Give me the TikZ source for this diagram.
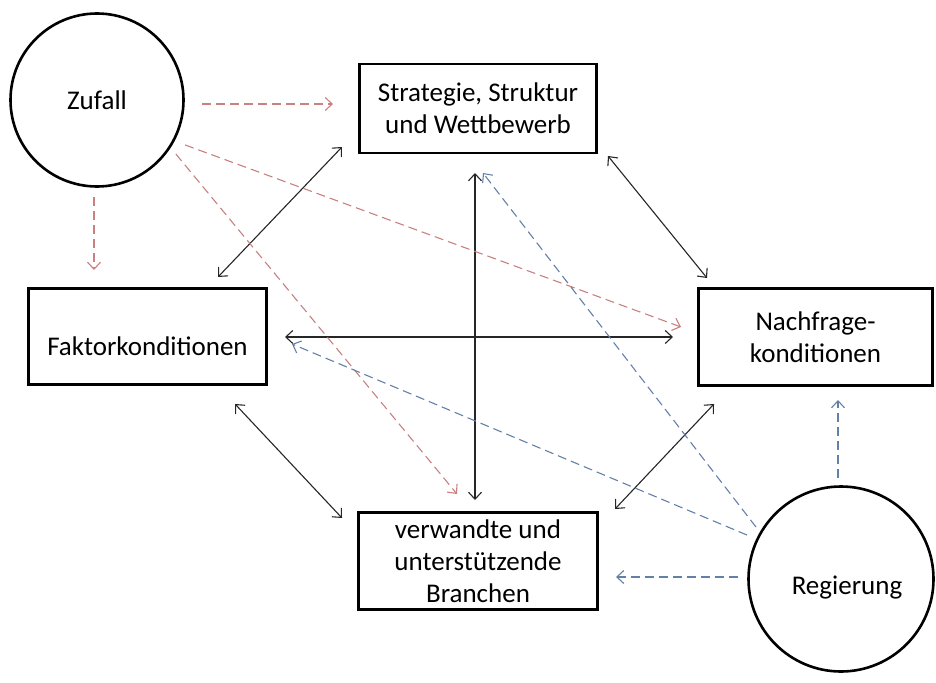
\documentclass[tikz,border=0pt]{standalone}
\usepackage{fontspec}
\setmainfont{Carlito}
\usetikzlibrary{arrows.meta}

\definecolor{zufallrot}{RGB}{200,128,128}
\definecolor{regblau}{RGB}{98,128,168}

\begin{document}
\begin{tikzpicture}[
				x = 1pt, y = -1pt, % pixel units, y grows downwards
				> = {Straight Barb[length=7pt, width=13pt]}, % open arrow head
				line width = 1.1pt, % line style
				font = \fontsize{27}{32}\selectfont
				]
				
				\tikzstyle{factor}=[
				draw = black,
				line width = 2.6pt,
				align = center,
				inner sep = 0pt,
				outer sep = 0pt
				]
				\tikzstyle{extern}=[factor, circle]
				\tikzstyle{link}=[<->, color = black!85]
				\tikzstyle{chance}=[->, dash pattern = on 9pt off 5pt, color = zufallrot]
				\tikzstyle{policy}=[->, dash pattern = on 9pt off 5pt, color = regblau]
				
				\useasboundingbox (0,0) rectangle (936,682);
				
				\node[extern, minimum size=173pt] (zufall) at (97,100) {Zufall};
				\node[factor, minimum width=237pt, minimum height=89pt] (strategie) at (478,108.5) {Strategie, Struktur\\und Wettbewerb};
				\node[factor, minimum width=238pt, minimum height=96pt, text height=37pt, text depth=0pt] (faktor) at (147.5,336.5) {Faktorkonditionen};
				\node[factor, minimum width=234pt, minimum height=97pt] (nachfrage) at (815.5,337) {Nachfrage-\\konditionen};
				\node[factor, minimum width=239pt, minimum height=97pt] (verwandte) at (478,561) {verwandte und\\unterstützende\\Branchen};
				\node[extern, minimum size=185pt, text height=30pt, text depth=0pt] (regierung) at (841,579) {\hspace*{12pt}Regierung};
				
				% diamond links
				\path[link]
				([shift={(70.5,-11.5)}]faktor.north) 	edge ([shift={(-17.5,-6)}]strategie.south west)
				([shift={(11.5,3)}]strategie.south east) 	edge ([shift={(8.5,-10.5)}]nachfrage.north west)
				([shift={(-3,20)}]strategie.south) 	edge ([shift={(-3,-12.5)}]verwandte.north)
				([shift={(18.5,0.5)}]faktor.east) 	edge ([shift={(-25.5,0)}]nachfrage.west)
				([shift={(-31.5,19.5)}]faktor.south east) 	edge ([shift={(-16.5,5.5)}]verwandte.north west)
				([shift={(17.5,-3.5)}]verwandte.north east) 	edge ([shift={(15.5,18.5)}]nachfrage.south west)
				;
				
				% Zufall
				\path[chance]
				([shift={(18.5,4)}]zufall.east) 	edge ([shift={(-26.5,-4.5)}]strategie.west)
				([shift={(-3,10.5)}]zufall.south) 	edge ([shift={(-53.5,-18.5)}]faktor.north)
				([shift={(11,5.7)}]zufall.-27) 	edge ([shift={(-17.5,-10)}]nachfrage.west)
				([shift={(8,4.4)}]zufall.-35) 	edge ([shift={(-21,-18.5)}]verwandte.north)
				;
				
				% Regierung
				\path[policy]
				([shift={(-6.6,-3)}]regierung.148) 	edge ([shift={(5,20)}]strategie.south)
				([shift={(-10.2,-4.9)}]regierung.155) 	edge ([shift={(25.5,7.5)}]faktor.east)
				([shift={(-10.5,-2)}]regierung.west) 	edge ([shift={(18.5,16)}]verwandte.east)
				([shift={(-3,-8.5)}]regierung.north) 	edge ([shift={(22.5,14.5)}]nachfrage.south)
				;
			\end{tikzpicture}
\end{document}
